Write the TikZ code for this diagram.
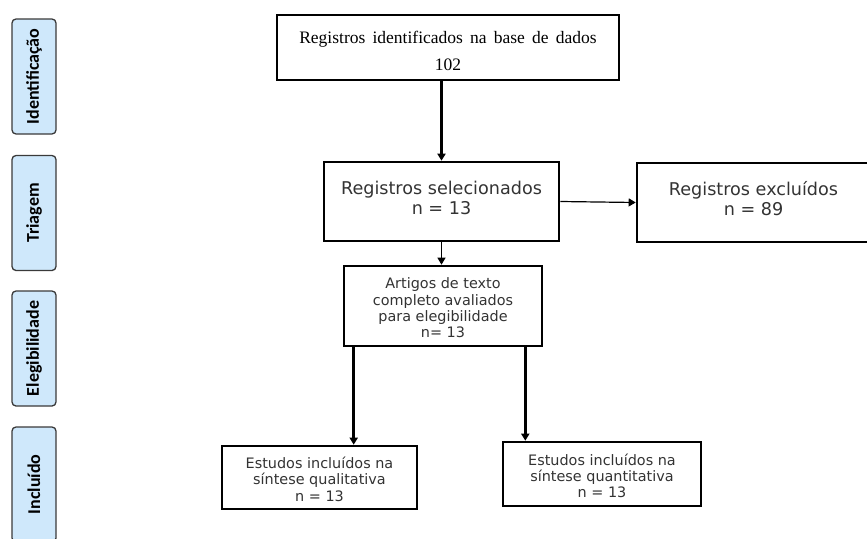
\documentclass[tikz,border=0pt]{standalone}
\usepackage{fontspec}
\setmainfont{Liberation Serif}
\newfontfamily\dejavu{DejaVu Sans}
\newfontfamily\carlito{Carlito}
\usetikzlibrary{arrows.meta,calc}
\definecolor{labelfill}{HTML}{CFE8FB}
\definecolor{labeldraw}{HTML}{3A3A3A}
\definecolor{sanstext}{HTML}{333333}
\begin{document}
\begin{tikzpicture}[x=1pt,y=-1pt,
  box/.style={draw=black,line width=2.6pt,rectangle,inner sep=0pt,align=center},
  sanslarge/.style={font=\dejavu\fontsize{17.6}{20.5}\selectfont,text=sanstext},
  sanssmall/.style={font=\dejavu\fontsize{14.4}{16.3}\selectfont,text=sanstext},
  phase/.style={draw=labeldraw,fill=labelfill,line width=1.3pt,rounded corners=4pt,
    minimum width=44pt,minimum height=115pt,inner sep=0pt,
    font=\carlito\bfseries\fontsize{18}{20}\selectfont},
  arrowhead/.style={-{Triangle[width=8pt,length=7pt]}},
  thickarrow/.style={arrowhead,line width=2.6pt},
  thinarrow/.style={arrowhead,line width=1.2pt}
]
\useasboundingbox (0,0) rectangle (867,538);

% phase labels
\node[phase] (p1) at (34,76.5) {\rotatebox{90}{Identificação}};
\node[phase] (p2) at (34,213) {\rotatebox{90}{Triagem}};
\node[phase] (p3) at (34,348.5) {\rotatebox{90}{Elegibilidade}};
\node[phase] (p4) at (34,484.5) {\rotatebox{90}{Incluído}};

% boxes
\node[box,minimum width=342pt,minimum height=65pt,
  font=\fontsize{17.5}{27}\selectfont] (top) at (448,47.5)
  {\rule{0pt}{20pt}{\spaceskip=7.2pt Registros identificados na base de dados}\\102};
\node[box,sanslarge,minimum width=235pt,minimum height=79pt] (sel) at (441.5,201.5)
  {Registros selecionados\\n = 13\rule[-7pt]{0pt}{7pt}};
\node[box,sanslarge,minimum width=233pt,minimum height=79pt] (exc) at (753.5,202.5)
  {Registros excluídos\\n = 89\rule[-8pt]{0pt}{8pt}};
\node[box,sanssmall,minimum width=198pt,minimum height=80pt] (art) at (443,306)
  {\rule{0pt}{15pt}Artigos de texto\\completo avaliados\\para elegibilidade\\n= 13};
\node[box,sanssmall,minimum width=195pt,minimum height=63pt] (bl) at (319.5,477.5)
  {\rule{0pt}{15pt}Estudos incluídos na\\síntese qualitativa\\n = 13};
\node[box,sanssmall,minimum width=198pt,minimum height=64pt] (br) at (602,474)
  {\rule{0pt}{15pt}Estudos incluídos na\\síntese quantitativa\\n = 13};

% connectors
\draw[thickarrow] (top.south -| sel.north) -- (sel.north);
\draw[thinarrow] (sel.east) -- (exc.west);
\draw[arrowhead,line width=1pt] (sel.south) -- (sel.south |- art.north);
\coordinate (al) at ($(art.south west)+(11,0)$);
\coordinate (ar) at ($(art.south east)+(-18,0)$);
\draw[thickarrow] (al) -- (al |- bl.north);
\draw[thickarrow] (ar) -- (ar |- br.north);
\end{tikzpicture}
\end{document}
